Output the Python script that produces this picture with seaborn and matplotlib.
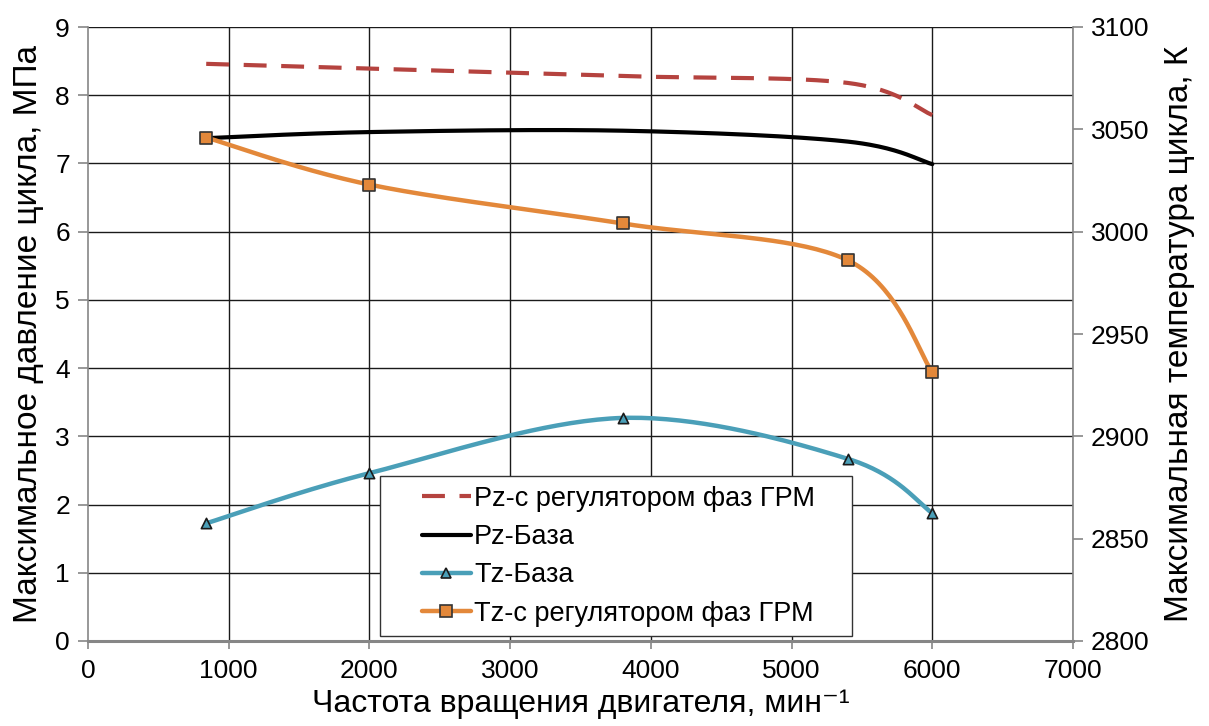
import numpy as np
import pandas as pd
import matplotlib
matplotlib.use("Agg")
import matplotlib.pyplot as plt
import seaborn as sns
from matplotlib.lines import Line2D
from matplotlib.legend_handler import HandlerLine2D

# ---- data ----
rpm = [840, 2000, 3800, 5400, 6000]
pz_reg = [8.46, 8.39, 8.28, 8.18, 7.71]      # MPa
pz_base = [7.37, 7.46, 7.48, 7.32, 6.99]     # MPa
tz_base = [2857.5, 2882, 2909, 2889, 2862.5]  # K
tz_reg = [3046, 3023, 3004, 2986, 2931.5]    # K

label_pz_reg = "Pz-с регулятором фаз ГРМ"
label_pz_base = "Pz-База"
label_tz_base = "Tz-База"
label_tz_reg = "Tz-с регулятором фаз ГРМ"

x_ticks = [0, 1000, 2000, 3000, 4000, 5000, 6000, 7000]
yl_ticks = [0, 1, 2, 3, 4, 5, 6, 7, 8, 9]
yr_ticks = [2800, 2850, 2900, 2950, 3000, 3050, 3100]

sns.set_theme(style="white")
plt.rcParams["font.family"] = ["Liberation Sans", "DejaVu Sans"]
plt.rcParams["text.color"] = "black"
plt.rcParams["axes.labelcolor"] = "black"

W, H = 985.0, 614.0


def smooth(x, y, xr, yr, n=40):
    """Excel-like smoothed line (Bezier with Catmull-Rom control points)."""
    X = (np.asarray(x, float) - xr[0]) / (xr[1] - xr[0]) * W
    Y = (np.asarray(y, float) - yr[0]) / (yr[1] - yr[0]) * H
    P = np.column_stack([X, Y])
    P = np.vstack([P[0], P, P[-1]])
    out = []
    t = np.linspace(0, 1, n)[:, None]
    for i in range(1, len(P) - 2):
        b0 = P[i]
        b1 = P[i] + (P[i + 1] - P[i - 1]) / 6.0
        b2 = P[i + 1] - (P[i + 2] - P[i]) / 6.0
        b3 = P[i + 1]
        seg = ((1 - t) ** 3) * b0 + 3 * ((1 - t) ** 2) * t * b1 + 3 * (1 - t) * t ** 2 * b2 + t ** 3 * b3
        out.append(seg if i == 1 else seg[1:])
    S = np.vstack(out)
    xs = S[:, 0] / W * (xr[1] - xr[0]) + xr[0]
    ys = S[:, 1] / H * (yr[1] - yr[0]) + yr[0]
    return pd.DataFrame({"x": xs, "y": ys})


fig = plt.figure(figsize=(12.09, 7.26), dpi=100)
ax = fig.add_axes([88 / 1209, 1 - 641 / 726, (1073 - 88) / 1209, (641 - 27) / 726])
ax2 = ax.twinx()

XR = (0, 7000)
YL = (0, 9)
YR = (2800, 3100)

c_red = "#B5433F"
c_teal = "#4A9FB8"
c_orange = "#E3883A"
grid_c = "#1a1a1a"
axis_c = "#868686"

ax.set_xlim(*XR)
ax.set_ylim(*YL)
ax2.set_ylim(*YR)

# grid
for xv in x_ticks[1:]:
    ax.axvline(xv, color=grid_c, lw=1.0, zorder=0.5)
for yv in yl_ticks[1:]:
    ax.axhline(yv, color=grid_c, lw=1.0, zorder=0.5)

# Pz lines (left axis)
d = smooth(rpm, pz_reg, XR, YL)
sns.lineplot(data=d, x="x", y="y", sort=False, estimator=None, ax=ax,
             color=c_red, lw=3.0, linestyle=(0, (5.5, 3.5)), zorder=3)
d = smooth(rpm, pz_base, XR, YL)
sns.lineplot(data=d, x="x", y="y", sort=False, estimator=None, ax=ax,
             color="black", lw=3.0, zorder=3)

# Tz lines (right axis)
d = smooth(rpm, tz_base, XR, YR)
sns.lineplot(data=d, x="x", y="y", sort=False, estimator=None, ax=ax2,
             color=c_teal, lw=3.2, zorder=3)
sns.scatterplot(x=rpm, y=tz_base, ax=ax2, marker="^", s=55, color=c_teal,
                edgecolor="#1a1a1a", linewidth=1.2, zorder=4)
d = smooth(rpm, tz_reg, XR, YR)
sns.lineplot(data=d, x="x", y="y", sort=False, estimator=None, ax=ax2,
             color=c_orange, lw=3.2, zorder=3)
sns.scatterplot(x=rpm, y=tz_reg, ax=ax2, marker="s", s=65, color=c_orange,
                edgecolor="#333333", linewidth=1.2, zorder=4)

# axes styling
for a in (ax, ax2):
    a.set_xlabel("")
    a.set_ylabel("")
    a.grid(False)
    for s in a.spines.values():
        s.set_visible(False)
ax.spines["left"].set_visible(True)
ax.spines["left"].set_color(axis_c)
ax.spines["left"].set_linewidth(1.2)
ax.spines["bottom"].set_visible(True)
ax.spines["bottom"].set_color(axis_c)
ax.spines["bottom"].set_linewidth(2.2)
ax2.spines["right"].set_visible(True)
ax2.spines["right"].set_color(axis_c)
ax2.spines["right"].set_linewidth(1.2)

ax.set_xticks(x_ticks)
ax.set_xticklabels([str(v) for v in x_ticks])
ax.set_yticks(yl_ticks)
ax.set_yticklabels([str(v) for v in yl_ticks])
ax2.set_yticks(yr_ticks)
ax2.set_yticklabels([str(v) for v in yr_ticks])

ax.tick_params(axis="x", which="both", bottom=True, direction="out", length=6,
               width=1.2, color=axis_c, labelsize=19, pad=7, labelcolor="black")
ax.tick_params(axis="y", which="both", left=True, direction="out", length=7,
               width=1.2, color=axis_c, labelsize=19, pad=6, labelcolor="black")
ax2.tick_params(axis="y", which="both", right=True, direction="out", length=7,
                width=1.2, color=axis_c, labelsize=19, pad=6, labelcolor="black")

ax.set_xlabel("Частота вращения двигателя, мин⁻¹", fontsize=23, labelpad=4,
              color="black")
ax.set_ylabel("Максимальное давление цикла, МПа", fontsize=24, labelpad=8,
              color="black")
ax2.set_ylabel("Максимальная температура цикла, К", fontsize=24, labelpad=10,
               color="black")


class ShiftedHandler(HandlerLine2D):
    def get_xdata(self, legend, xdescent, ydescent, width, height, fontsize):
        off = 0.40 * width
        return ([-xdescent + off, -xdescent + width],
                [-xdescent + off + 0.5 * (width - off)])


handles = [
    Line2D([], [], color=c_red, lw=3.0, linestyle=(0, (5.5, 3.5))),
    Line2D([], [], color="black", lw=3.0),
    Line2D([], [], color=c_teal, lw=3.2, marker="^", markersize=7,
           markerfacecolor=c_teal, markeredgecolor="#1a1a1a", markeredgewidth=1.2),
    Line2D([], [], color=c_orange, lw=3.2, marker="s", markersize=8,
           markerfacecolor=c_orange, markeredgecolor="#333333", markeredgewidth=1.2),
]
labels = [label_pz_reg, label_pz_base, label_tz_base, label_tz_reg]
leg = ax2.legend(handles, labels, loc="lower left",
                 bbox_to_anchor=((380 - 88) / W, (641 - 636) / H, (852 - 380) / W, 0.26),
                 mode="expand", fontsize=19.5, frameon=True, fancybox=False,
                 edgecolor="#333333", framealpha=1, borderpad=0.35,
                 labelspacing=0.45, handlelength=3.0, handletextpad=0.12,
                 borderaxespad=0, numpoints=1,
                 handler_map={h: ShiftedHandler() for h in handles})
leg.get_frame().set_linewidth(1.0)
leg.set_zorder(10)
for t in leg.get_texts():
    t.set_color("black")

fig.savefig("out.png", dpi=100)
